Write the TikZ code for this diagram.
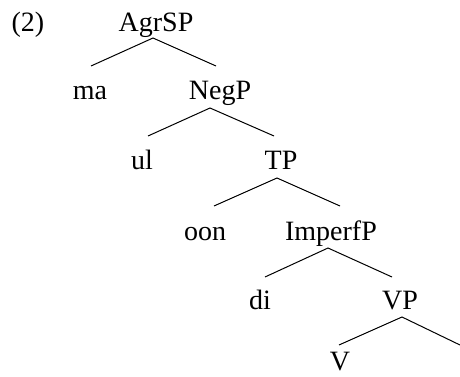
\documentclass[tikz,border=0pt]{standalone}
\usepackage{fontspec}
\setmainfont{Liberation Serif}
\begin{document}
\begin{tikzpicture}[x=1pt,y=-1pt,
  lbl/.style={inner sep=0pt,text height=0pt,text depth=0pt,font=\fontsize{28}{30}\selectfont},
  branch/.style={line width=1pt}]
\useasboundingbox (0,0) rectangle (460,377);
\node[lbl] (ex) at (28,32) {(2)};
\node[lbl] (AgrSP) at (156,32) {AgrSP};
\node[lbl] (ma) at (90,100) {ma};
\node[lbl] (NegP) at (220,100) {NegP};
\node[lbl] (ul) at (142,169) {ul};
\node[lbl] (TP) at (281,169) {TP};
\node[lbl] (oon) at (205,240) {oon};
\node[lbl] (ImperfP) at (331,240) {ImperfP};
\node[lbl] (di) at (260,309) {di};
\node[lbl] (VP) at (400,309) {VP};
\node[lbl] (V) at (340,370) {V};
\coordinate (VPr) at (460,345);
\draw[branch] ([shift={(1,-34)}]ma.center) -- ([shift={(-3,6)}]AgrSP.center) -- ([shift={(-4,-34)}]NegP.center);
\draw[branch] ([shift={(6,-33)}]ul.center) -- ([shift={(-10,8)}]NegP.center) -- ([shift={(-7,-33)}]TP.center);
\draw[branch] ([shift={(9,-34)}]oon.center) -- ([shift={(-4,9)}]TP.center) -- ([shift={(9,-34)}]ImperfP.center);
\draw[branch] ([shift={(5,-32)}]di.center) -- ([shift={(-3,8)}]ImperfP.center) -- ([shift={(-8,-32)}]VP.center);
\draw[branch] ([shift={(-1,-25)}]V.center) -- ([shift={(2,8)}]VP.center) -- (VPr);
\end{tikzpicture}
\end{document}
